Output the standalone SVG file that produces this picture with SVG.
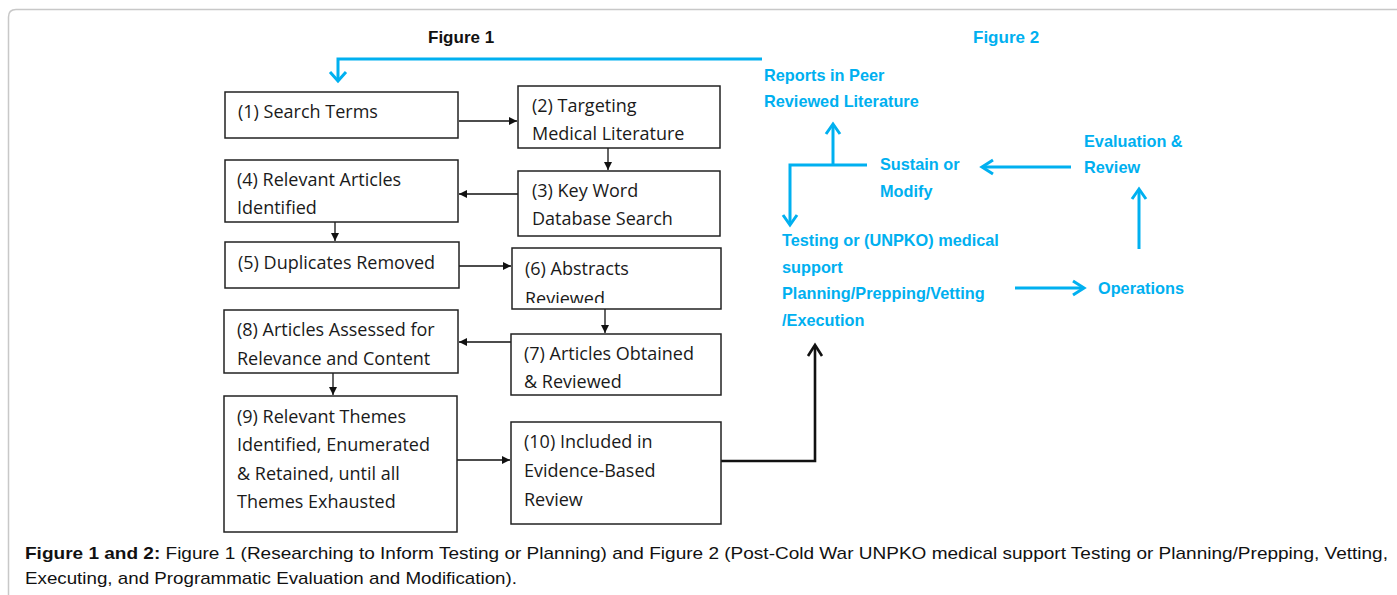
<svg xmlns="http://www.w3.org/2000/svg" width="1397" height="595" viewBox="0 0 1397 595">
<style>
.bg{fill:#fff}
.frame{fill:none;stroke:#c8c8c8;stroke-width:1.5}
.box{fill:#fff;stroke:#222;stroke-width:1.5}
.t1{font-family:"Open Sans","Liberation Sans",Arial,sans-serif;font-size:18px;fill:#1a1a1a}
.t2{font-family:"Liberation Sans",Arial,sans-serif;font-size:16.3px;font-weight:bold;fill:#00b0f0}
.h1{font-family:"Liberation Sans",Arial,sans-serif;font-size:17px;font-weight:bold;fill:#111}
.cap{font-family:"Liberation Sans",Arial,sans-serif;font-size:17px;fill:#111}
.blk{fill:none;stroke:#111;stroke-width:1.3}
.cy{fill:none;stroke:#00b0f0;stroke-width:3;stroke-linejoin:miter}
.thick{fill:none;stroke:#111;stroke-width:2.6}
</style>
<defs>
<marker id="ah" viewBox="0 0 10 10" refX="10" refY="5" markerWidth="8" markerHeight="8" markerUnits="userSpaceOnUse" orient="auto">
<path d="M0,0 L10,5 L0,10 z" fill="#111"/>
</marker>
<clipPath id="clip6"><rect x="512" y="248" width="209" height="55"/></clipPath>
</defs>
<rect class="bg" width="1397" height="595"/>
<path class="frame" d="M8.5,595 V17 Q8.5,9.5 16,9.5 H1397"/>

<text class="h1" x="428" y="43">Figure 1</text>
<text class="t2" x="973" y="43" style="font-size:17px">Figure 2</text>

<g id="connectors">
<line class="blk" x1="459" y1="121" x2="517" y2="121" marker-end="url(#ah)"/>
<line class="blk" x1="608" y1="148" x2="608" y2="170" marker-end="url(#ah)"/>
<line class="blk" x1="518" y1="194" x2="459" y2="194" marker-end="url(#ah)"/>
<line class="blk" x1="335" y1="222" x2="335" y2="241" marker-end="url(#ah)"/>
<line class="blk" x1="459" y1="266" x2="511" y2="266" marker-end="url(#ah)"/>
<line class="blk" x1="605" y1="309" x2="605" y2="333" marker-end="url(#ah)"/>
<line class="blk" x1="511" y1="342" x2="459" y2="342" marker-end="url(#ah)"/>
<line class="blk" x1="333" y1="373" x2="333" y2="395" marker-end="url(#ah)"/>
<line class="blk" x1="457" y1="460" x2="510" y2="460" marker-end="url(#ah)"/>
<path class="thick" d="M721,461 H815 V346"/>
<path class="thick" d="M808,356 L815,345 L822,356"/>
<path class="cy" d="M762,59 H338 V80"/>
<path class="cy" d="M330,72 L338,81 L346,72"/>
<path class="cy" d="M867,165 H790 V224"/>
<path class="cy" d="M783,215 L790,225 L797,215"/>
<path class="cy" d="M833,165 V125"/>
<path class="cy" d="M826,134 L833,124 L840,134"/>
<path class="cy" d="M1071,167 H983"/>
<path class="cy" d="M993,160 L982,167 L993,174"/>
<path class="cy" d="M1139,249 V190"/>
<path class="cy" d="M1132,199 L1139,189 L1146,199"/>
<path class="cy" d="M1015,288 H1083"/>
<path class="cy" d="M1073,281 L1084,288 L1073,295"/>
</g>

<g id="n1"><rect class="box" x="225" y="92" width="233" height="46"/><text class="t1" x="238" y="118">(1) Search Terms</text></g>
<g id="n2"><rect class="box" x="518" y="86" width="202" height="62"/><text class="t1" x="532" y="112">(2) Targeting</text><text class="t1" x="532" y="140">Medical Literature</text></g>
<g id="n3"><rect class="box" x="518" y="171" width="202" height="65"/><text class="t1" x="532" y="197">(3) Key Word</text><text class="t1" x="532" y="225">Database Search</text></g>
<g id="n4"><rect class="box" x="225" y="160" width="233" height="62"/><text class="t1" x="237" y="186">(4) Relevant Articles</text><text class="t1" x="237" y="214">Identified</text></g>
<g id="n5"><rect class="box" x="225" y="242" width="234" height="46"/><text class="t1" x="238" y="269">(5) Duplicates Removed</text></g>
<g id="n6"><rect class="box" x="512" y="248" width="209" height="61"/><text class="t1" x="525" y="275">(6) Abstracts</text><text class="t1" x="525" y="305" clip-path="url(#clip6)">Reviewed</text></g>
<g id="n7"><rect class="box" x="511" y="334" width="210" height="61"/><text class="t1" x="524" y="360">(7) Articles Obtained</text><text class="t1" x="524" y="388">&amp; Reviewed</text></g>
<g id="n8"><rect class="box" x="224" y="310" width="234" height="63"/><text class="t1" x="237" y="336">(8) Articles Assessed for</text><text class="t1" x="237" y="365">Relevance and Content</text></g>
<g id="n9"><rect class="box" x="224" y="396" width="233" height="136"/><text class="t1" x="237" y="423">(9) Relevant Themes</text><text class="t1" x="237" y="451">Identified, Enumerated</text><text class="t1" x="237" y="480">&amp; Retained, until all</text><text class="t1" x="237" y="508">Themes Exhausted</text></g>
<g id="n10"><rect class="box" x="511" y="422" width="210" height="102"/><text class="t1" x="524" y="448">(10) Included in</text><text class="t1" x="524" y="477">Evidence-Based</text><text class="t1" x="524" y="506">Review</text></g>

<g id="f2-reports"><text class="t2" x="764" y="81">Reports in Peer</text><text class="t2" x="764" y="107">Reviewed Literature</text></g>
<g id="f2-sustain"><text class="t2" x="880" y="170">Sustain or</text><text class="t2" x="880" y="197">Modify</text></g>
<g id="f2-eval"><text class="t2" x="1084" y="147">Evaluation &amp;</text><text class="t2" x="1084" y="173">Review</text></g>
<g id="f2-testing"><text class="t2" x="782" y="246">Testing or (UNPKO) medical</text><text class="t2" x="782" y="273">support</text><text class="t2" x="782" y="299">Planning/Prepping/Vetting</text><text class="t2" x="782" y="326">/Execution</text></g>
<g id="f2-ops"><text class="t2" x="1098" y="294">Operations</text></g>

<text class="cap" x="25" y="559" textLength="1363" lengthAdjust="spacingAndGlyphs"><tspan font-weight="bold">Figure 1 and 2:</tspan> Figure 1 (Researching to Inform Testing or Planning) and Figure 2 (Post-Cold War UNPKO medical support Testing or Planning/Prepping, Vetting,</text>
<text class="cap" x="25" y="584" textLength="492" lengthAdjust="spacingAndGlyphs">Executing, and Programmatic Evaluation and Modification).</text>
</svg>
